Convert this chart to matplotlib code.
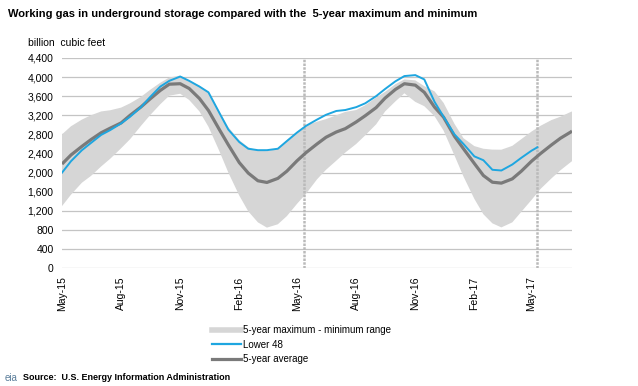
import pandas as pd
import matplotlib
matplotlib.use("Agg")
import matplotlib.pyplot as plt
import matplotlib.dates as mdates
from matplotlib.lines import Line2D

plt.rcParams['font.family'] = ['Liberation Sans', 'DejaVu Sans']

# half-month grid (1st and 15th) from May 2015 through the end of the chart
band_dates = list(pd.date_range('2015-05-01', '2017-07-01', freq='SMS')) + [pd.Timestamp('2017-07-03')]

# 5-year range (billion cubic feet)
range_max = [2800, 2970, 3110, 3200, 3280, 3305, 3360, 3450, 3585, 3730,
             3880, 3990, 4030, 3920, 3820, 3680, 3280, 2950, 2680, 2530,
             2460, 2450, 2500, 2680, 2850, 2990, 3065, 3120, 3200, 3270,
             3310, 3410, 3570, 3690, 3850, 3950, 3930, 3810, 3700, 3460,
             3020, 2720, 2555, 2500, 2482, 2480, 2560, 2700, 2860, 2980,
             3100, 3170, 3270, 3280]
range_min = [1300, 1540, 1790, 1930, 2130, 2290, 2510, 2700, 2980, 3200,
             3430, 3610, 3650, 3520, 3280, 2960, 2450, 2000, 1520, 1190,
             960, 850, 920, 1090, 1350, 1560, 1860, 2060, 2250, 2420,
             2600, 2780, 3010, 3280, 3490, 3660, 3480, 3390, 3180, 2880,
             2360, 1920, 1450, 1130, 940, 855, 960, 1180, 1430, 1660,
             1880, 2050, 2220, 2240]
avg_5yr = [2180, 2370, 2550, 2690, 2835, 2930, 3040, 3200, 3375, 3540,
           3720, 3850, 3860, 3760, 3550, 3300, 2900, 2580, 2210, 1990,
           1830, 1795, 1880, 2030, 2250, 2420, 2600, 2740, 2850, 2920,
           3060, 3190, 3360, 3560, 3740, 3860, 3830, 3680, 3370, 3160,
           2760, 2500, 2190, 1940, 1800, 1781, 1870, 2030, 2240, 2400,
           2580, 2720, 2850, 2870]

# Lower 48 ends at the latest week
l48_dates = list(pd.date_range('2015-05-01', '2017-05-01', freq='SMS')) + [pd.Timestamp('2017-05-10')]
lower48 = [2000, 2240, 2470, 2620, 2790, 2890, 3030, 3170, 3370, 3580,
           3800, 3920, 4010, 3920, 3800, 3680, 3250, 2900, 2640, 2500,
           2470, 2470, 2500, 2660, 2840, 2980, 3110, 3210, 3290, 3310,
           3370, 3450, 3600, 3750, 3910, 4020, 4040, 3950, 3480, 3170,
           2800, 2600, 2340, 2260, 2060, 2045, 2170, 2310, 2460, 2530]

week_marks = ['2016-05-12', '2017-05-10']
tick_dates = ['2015-05-01', '2015-08-01', '2015-11-01', '2016-02-01', '2016-05-01',
              '2016-08-01', '2016-11-01', '2017-02-01', '2017-05-01']
tick_labels = ['May-15', 'Aug-15', 'Nov-15', 'Feb-16', 'May-16',
               'Aug-16', 'Nov-16', 'Feb-17', 'May-17']

fig = plt.figure(figsize=(6.38, 3.86), dpi=100)
ax = fig.add_axes([0.0972, 0.305, 0.7994, 0.545])

# band as a polygon: top edge forward, bottom edge back
bx = mdates.date2num(band_dates)
ax.fill(list(bx) + list(bx[::-1]), range_max + range_min[::-1],
        color='#d6d6d6', lw=0, zorder=2)
ax.plot(band_dates, avg_5yr, color='#7a7a7a', lw=2.3, zorder=4, solid_capstyle='butt')
ax.plot(l48_dates, lower48, color='#1ea6e0', lw=1.4, zorder=5)

for d in week_marks:
    ax.axvline(pd.Timestamp(d), color='#bababa', lw=1.8, ls=(0, (1.0, 0.5)), zorder=3)

ax.set_ylim(0, 4400)
ax.set_yticks(range(0, 4401, 400))
ax.set_yticklabels([f'{v:,}' for v in range(0, 4401, 400)], fontsize=7.5)
ax.set_xlim(pd.Timestamp('2015-05-01'), pd.Timestamp('2017-07-03'))
ax.set_xticks([pd.Timestamp(t) for t in tick_dates])
ax.set_xticklabels(tick_labels, rotation=90, fontsize=7.5)
ax.tick_params(length=0, pad=6)
ax.grid(axis='y', color='#c4c4c4', lw=0.9, zorder=1)
ax.set_axisbelow(True)
for s in ax.spines.values():
    s.set_visible(False)

fig.text(0.0125, 0.965, 'Working gas in underground storage compared with the  5-year maximum and minimum',
         fontsize=8, fontweight='bold', va='center', ha='left')
fig.text(0.044, 0.888, 'billion  cubic feet', fontsize=7.5, va='center', ha='left')

handles = [Line2D([], [], color='#d6d6d6', lw=4),
           Line2D([], [], color='#1ea6e0', lw=1.6),
           Line2D([], [], color='#7a7a7a', lw=2.3)]
fig.legend(handles, ['5-year maximum - minimum range', 'Lower 48', '5-year average'],
           loc='upper left', bbox_to_anchor=(0.325, 0.17), frameon=False, fontsize=7,
           handlelength=3.0, handletextpad=0.15, labelspacing=0.45, borderpad=0)

fig.text(0.008, 0.022, 'eia', fontsize=7, color='#5a7d9a', va='center', ha='left')
fig.text(0.036, 0.022, 'Source:  U.S. Energy Information Administration', fontsize=6.5,
         fontweight='bold', va='center', ha='left')

fig.savefig('out.png', dpi=100)
